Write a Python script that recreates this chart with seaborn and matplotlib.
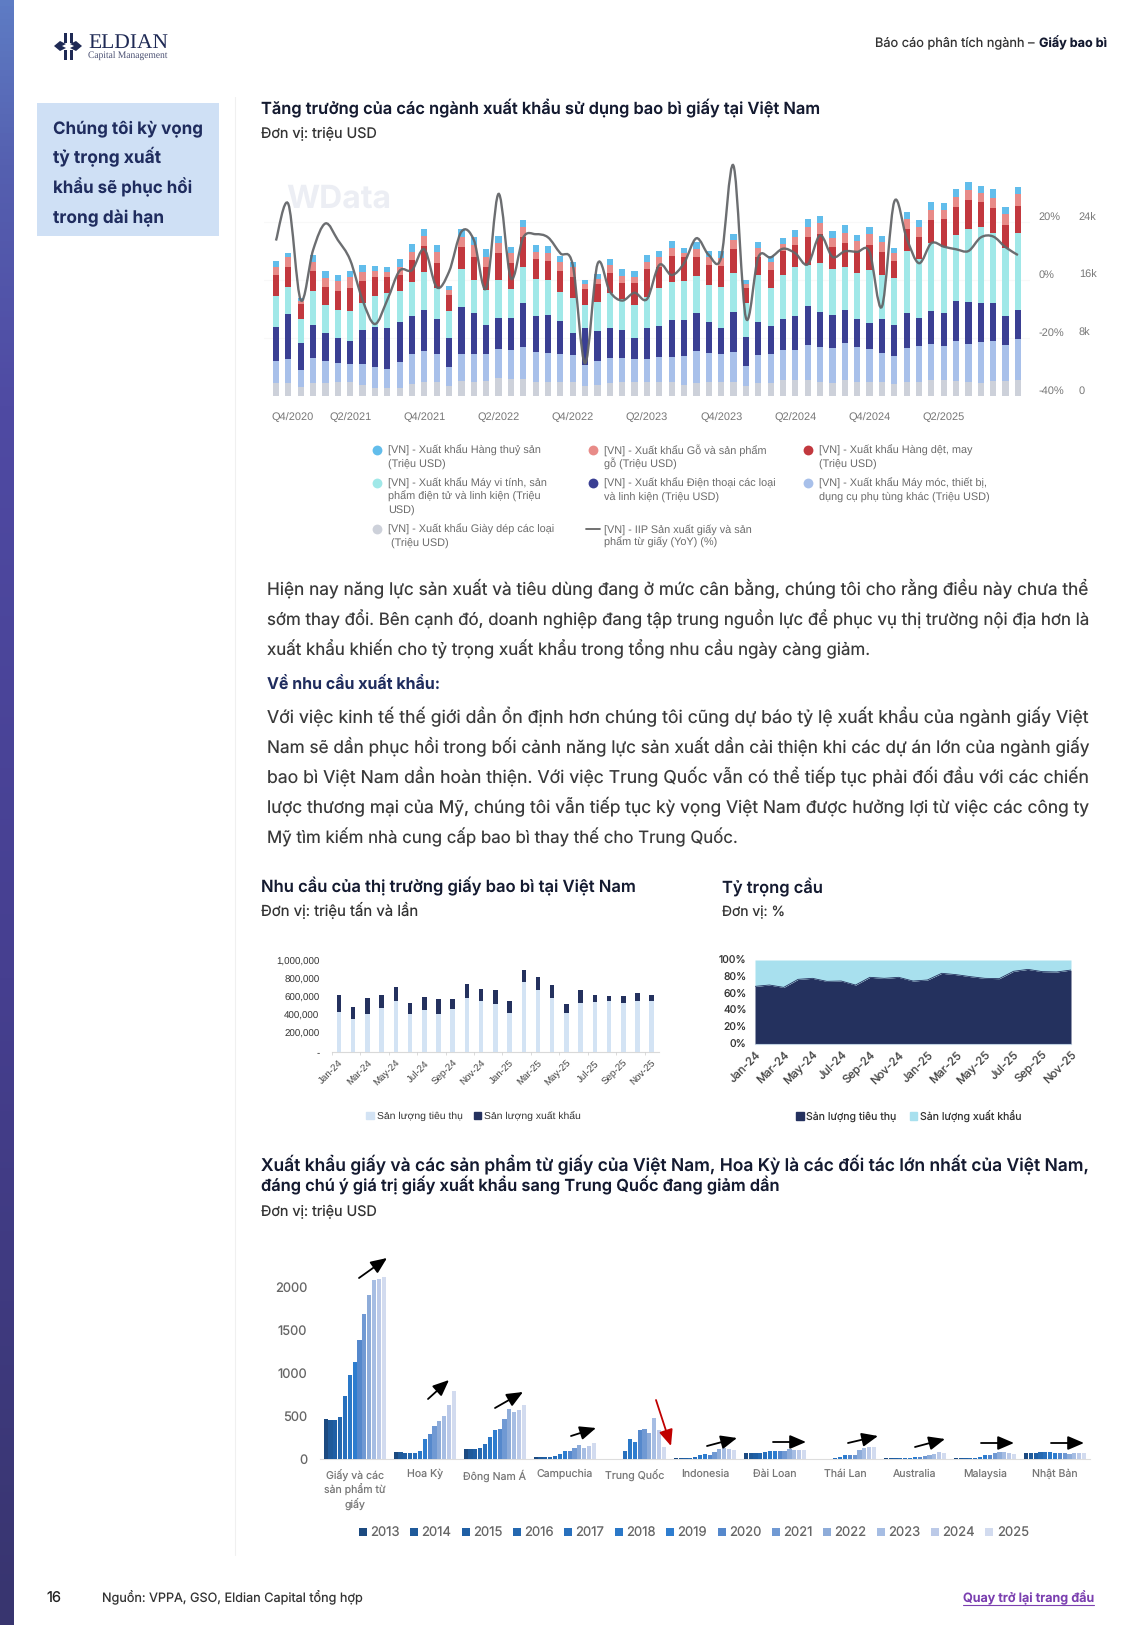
# Rebuild of the paper packaging report page: three small charts plus the page text.
# Everything is placed in pixels of the 1125x1625 page.

import matplotlib
matplotlib.use("Agg")
import matplotlib.pyplot as plt
import numpy as np
import pandas as pd
import seaborn as sns
from matplotlib.patches import PathPatch, Patch, Rectangle, Polygon
from matplotlib.path import Path
from matplotlib.transforms import ScaledTranslation

W, H = 1125, 1625
BODY = "Inter"
ARIAL = "Liberation Sans"

# chart 1: exports by sector (million USD) and IIP of paper (%)
# ---
footwear = [1750, 1840, 1290, 1750, 1750, 1980, 1980, 1520, 1060, 1060, 1060, 1660, 1980, 1980, 1430, 2070, 1980, 2120, 2480, 2390, 2390, 1980, 1980, 1890, 1890, 1430, 1520, 1750, 1890, 1890, 1890, 1890, 1890, 1520, 1840, 1980, 1890, 1930, 1380, 1840, 1840, 2210, 2210, 2210, 1980, 1750, 2210, 1890, 1980, 1890, 1660, 1980, 1980, 2210, 2210, 2020, 1980, 1750, 2020, 2120, 2210]
machinery = [3130, 3310, 2300, 3450, 3130, 2530, 2440, 2900, 2990, 2620, 3590, 4090, 4230, 3770, 2620, 3680, 3770, 3630, 3960, 3960, 4420, 4140, 4000, 3910, 3730, 2850, 3360, 3450, 3310, 3220, 3270, 3450, 3450, 4000, 4420, 3910, 3910, 4190, 2760, 3820, 3960, 4140, 4140, 4780, 4830, 4830, 5060, 4920, 4510, 4000, 3860, 4600, 4970, 4970, 4740, 5520, 5200, 5700, 5610, 4970, 5610]
phones = [4600, 6160, 3680, 4650, 3770, 3540, 3220, 4690, 5520, 5660, 5570, 5290, 5660, 4830, 4000, 6490, 5750, 4090, 4370, 4460, 6070, 4920, 5200, 4510, 3130, 5060, 4090, 4190, 3910, 2940, 4230, 4370, 5150, 4970, 5150, 4320, 3590, 5520, 4050, 4600, 3910, 4320, 4690, 5430, 4740, 4600, 4600, 3770, 3630, 4690, 4320, 4830, 3770, 4600, 4460, 5570, 5800, 5340, 5150, 3960, 4050]
computers = [4320, 3770, 3360, 4600, 3860, 3820, 4090, 3680, 4280, 4920, 4230, 4740, 5240, 4280, 3680, 5240, 4510, 4780, 5200, 3910, 4970, 5060, 4830, 4000, 4740, 3170, 4000, 4780, 4230, 4510, 4320, 5150, 5290, 5430, 5150, 5060, 5700, 5380, 4600, 6390, 5150, 5980, 6720, 5700, 6760, 6390, 5980, 6350, 7270, 6070, 6390, 8600, 8140, 9290, 9200, 9110, 10030, 10580, 9750, 9430, 10670]
textile = [2850, 2760, 2070, 2850, 2580, 2670, 3170, 3130, 2620, 2210, 2210, 2990, 3590, 3450, 2160, 3040, 3130, 3220, 3680, 3680, 4050, 2810, 2670, 2940, 2990, 2250, 2440, 2850, 2300, 2990, 3770, 2990, 3540, 3310, 2670, 2810, 2850, 3220, 2070, 2580, 2530, 3310, 3130, 3860, 4050, 3040, 3310, 3080, 3500, 3270, 2440, 3040, 3130, 3220, 3820, 3910, 3960, 3360, 3360, 3080, 3680]
wood = [1200, 1290, 460, 1240, 1200, 1380, 1560, 1240, 740, 640, 1200, 1150, 1380, 1610, 740, 1380, 1700, 1290, 1380, 1380, 1380, 1010, 1100, 1200, 1290, 640, 690, 1060, 920, 920, 1060, 1290, 1100, 460, 1100, 1150, 1060, 1290, 550, 1240, 1150, 1010, 1100, 1290, 1470, 1200, 1380, 1330, 1520, 1330, 1010, 1380, 1290, 1380, 1240, 1380, 1380, 1330, 1470, 1520, 1610]
seafood = [830, 640, 320, 920, 920, 780, 830, 920, 740, 740, 1060, 1060, 920, 920, 600, 1200, 1060, 1100, 1010, 830, 1010, 970, 920, 870, 780, 550, 740, 780, 920, 830, 870, 830, 970, 780, 920, 830, 970, 780, 550, 780, 780, 830, 920, 1100, 1010, 1010, 1100, 920, 870, 830, 690, 1010, 1010, 1060, 920, 1010, 1100, 920, 1240, 970, 1060]
iip_yoy = [13.6, 26.2, -6.9, 10.3, 19.5, 13.8, 6.9, -6.9, -15.2, -6.9, 3.2, 3.4, 10.6, -2.5, 2.9, 16.7, 13.8, -2.9, 29.7, 0.6, 14.7, 15.8, 14.7, 9.2, 5.2, -28.7, 5.5, -4.0, -7.1, -4.4, -6.6, 5.2, 1.7, 5.8, 14.4, 8.6, 7.8, 39.4, -13.0, 7.8, 7.8, 10.8, 9.2, 5.4, 15.4, 8.0, 9.9, 9.7, 9.7, -9.2, 27.0, 14.4, 5.8, 12.7, 11.5, 10.6, 10.0, 14.7, 15.0, 11.3, 8.6]
quarter_pos = [0, 6, 12, 18, 24, 30, 36, 42, 48, 54]
quarter_labels = ["Q4/2020", "Q2/2021", "Q4/2021", "Q2/2022", "Q4/2022", "Q2/2023", "Q4/2023", "Q2/2024", "Q4/2024", "Q2/2025"]
sector_series = [footwear, machinery, phones, computers, textile, wood, seafood]
sector_colors = ["#CDD1DA", "#A8C0EA", "#3A3F93", "#A0E8E8", "#C2383E", "#E88B88", "#62BDEB"]

# charts 2 and 3: monthly demand
# ---
months = ["Jan-24", "Feb-24", "Mar-24", "Apr-24", "May-24", "Jun-24", "Jul-24", "Aug-24", "Sep-24", "Oct-24", "Nov-24", "Dec-24",
          "Jan-25", "Feb-25", "Mar-25", "Apr-25", "May-25", "Jun-25", "Jul-25", "Aug-25", "Sep-25", "Oct-25", "Nov-25"]
domestic = [440000, 355000, 410000, 484000, 560000, 410000, 458000, 410000, 465000, 586000, 557000, 520000, 429000, 766000, 678000, 593000, 425000, 535000, 546000, 553000, 538000, 557000, 553000]
exported = [180000, 139000, 183000, 136000, 147000, 128000, 139000, 165000, 110000, 154000, 132000, 154000, 125000, 132000, 139000, 136000, 103000, 139000, 73000, 59000, 77000, 84000, 66000]
domestic_share = [68.5, 70.1, 67.3, 76.9, 78.1, 74.5, 74.9, 70.1, 79.3, 78.1, 79.3, 74.9, 76.1, 84.1, 82.5, 80.1, 78.1, 77.7, 86.5, 88.8, 86.1, 85.7, 88.0]
export_share = [100 - v for v in domestic_share]

# chart 4: paper exports by market, 2013-2025 (million USD)
# ---
years = [str(y) for y in range(2013, 2026)]
markets = ["Giấy và các\nsản phẩm từ\ngiấy", "Hoa Kỳ", "Đông Nam Á", "Campuchia", "Trung Quốc", "Indonesia", "Đài Loan", "Thái Lan", "Australia", "Malaysia", "Nhật Bản"]
total_paper = [467, 455, 455, 494, 733, 973, 1123, 1382, 1679, 1899, 2077, 2088, 2115]
usa = [85, 81, 77, 77, 77, 97, 232, 290, 390, 444, 506, 625, 791]
sea = [116, 116, 120, 131, 181, 259, 340, 347, 467, 583, 548, 575, 629]
cambodia = [23, 23, 23, 27, 42, 58, 93, 97, 135, 166, 135, 151, 189]
china = [3, 3, 3, 3, 100, 235, 200, 344, 355, 305, 475, 336, 147]
indonesia = [12, 12, 12, 12, 31, 46, 66, 54, 89, 120, 127, 124, 112]
taiwan = [77, 77, 77, 77, 85, 93, 100, 93, 100, 124, 112, 108, 108]
thailand = [4, 4, 4, 4, 12, 27, 50, 46, 54, 108, 131, 139, 143]
australia = [15, 15, 15, 15, 15, 19, 23, 27, 39, 54, 62, 81, 77]
malaysia = [12, 12, 12, 12, 15, 31, 46, 54, 69, 89, 81, 69, 62]
japan = [69, 69, 77, 89, 85, 81, 73, 69, 69, 66, 69, 69, 69]
market_series = [total_paper, usa, sea, cambodia, china, indonesia, taiwan, thailand, australia, malaysia, japan]
year_colors = ["#1C4A80", "#1F5A9A", "#1F5FA5", "#2468B0", "#2870BD", "#2A78C8", "#2E7DCF", "#5588CC", "#7099D3", "#8EACD9", "#A6BDE3", "#BCCAE8", "#D2DBEF"]

legend_rows = [
    (377, 388, 450, "#62BDEB", ["[VN] - Xuất khẩu Hàng thuỷ sản", "(Triệu USD)"]),
    (593, 604, 450, "#E88B88", ["[VN] - Xuất khẩu Gỗ và sản phẩm", "gỗ (Triệu USD)"]),
    (808, 819, 450, "#C2383E", ["[VN] - Xuất khẩu Hàng dệt, may", "(Triệu USD)"]),
    (377, 388, 483, "#A0E8E8", ["[VN] - Xuất khẩu Máy vi tính, sản", "phẩm điện tử và linh kiện (Triệu", "USD)"]),
    (593, 604, 483, "#3A3F93", ["[VN] - Xuất khẩu Điện thoại các loại", "và linh kiện (Triệu USD)"]),
    (808, 819, 483, "#A8C0EA", ["[VN] - Xuất khẩu Máy móc, thiết bị,", "dụng cụ phụ tùng khác (Triệu USD)"]),
    (377, 388, 528.5, "#CDD1DA", ["[VN] - Xuất khẩu Giày dép các loại", " (Triệu USD)"]),
    (593, 604, 528.5, None, ["[VN] - IIP Sản xuất giấy và sản", "phẩm từ giấy (YoY) (%)"]),
]

para_one = ["Hiện nay năng lực sản xuất và tiêu dùng đang ở mức cân bằng, chúng tôi cho rằng điều này chưa thể",
            "sớm thay đổi. Bên cạnh đó, doanh nghiệp đang tập trung nguồn lực để phục vụ thị trường nội địa hơn là",
            "xuất khẩu khiến cho tỷ trọng xuất khẩu trong tổng nhu cầu ngày càng giảm."]
para_two = ["Với việc kinh tế thế giới dần ổn định hơn chúng tôi cũng dự báo tỷ lệ xuất khẩu của ngành giấy Việt",
            "Nam sẽ dần phục hồi trong bối cảnh năng lực sản xuất dần cải thiện khi các dự án lớn của ngành giấy",
            "bao bì Việt Nam dần hoàn thiện. Với việc Trung Quốc vẫn có thể tiếp tục phải đối đầu với các chiến",
            "lược thương mại của Mỹ, chúng tôi vẫn tiếp tục kỳ vọng Việt Nam được hưởng lợi từ việc các công ty",
            "Mỹ tìm kiếm nhà cung cấp bao bì thay thế cho Trung Quốc."]


# helpers
# ---
sns.set_theme(style="white")
plt.rcParams["font.family"] = [BODY, "DejaVu Sans"]
plt.rcParams["text.hinting"] = "none"

fig = plt.figure(figsize=(W / 100, H / 100), dpi=100, facecolor="white")
renderer = fig.canvas.get_renderer()

# the page itself, in pixels with y going down
page = fig.add_axes([0, 0, 1, 1], zorder=5)
page.set_xlim(0, W)
page.set_ylim(H, 0)
page.axis("off")
page.patch.set_alpha(0)


def chart_axes(x0, y0, x1, y1):
    ax = fig.add_axes([x0 / W, 1 - y1 / H, (x1 - x0) / W, (y1 - y0) / H])
    ax.patch.set_alpha(0)
    return ax


def put(x, y, s, width=None, size=10, color="#222222", **kw):
    # y is the middle of the x-height, width fits the line to a measured length
    if width is not None:
        for _ in range(3):
            probe = page.text(0, 0, s, fontsize=size, **kw)
            size = size * width / probe.get_window_extent(renderer).width
            probe.remove()
    return page.text(x, y + 0.36 * size * 100 / 72, s, fontsize=size, color=color, va="baseline", **kw)


def smooth_line(ax, xs, ys, **kw):
    # catmull-rom through the points, as bezier segments
    pts = np.column_stack([xs, ys]).astype(float)
    verts = [pts[0]]
    codes = [Path.MOVETO]
    for i in range(len(pts) - 1):
        before = pts[max(i - 1, 0)]
        after = pts[min(i + 2, len(pts) - 1)]
        verts += [pts[i] + (pts[i + 1] - before) / 6, pts[i + 1] - (after - pts[i]) / 6, pts[i + 1]]
        codes += [Path.CURVE4] * 3
    ax.add_patch(PathPatch(Path(verts, codes), fill=False, **kw))


# page furniture
# ---
strip = page.imshow(np.linspace(0, 1, 256).reshape(-1, 1), extent=(0, 14, H, 0), aspect="auto",
                    cmap=matplotlib.colors.LinearSegmentedColormap.from_list(
                        "strip", [(0, "#5E7CC4"), (0.1, "#5560B0"), (0.25, "#4F4AA3"), (0.6, "#463F90"), (1, "#38356F")]))
page.set_xlim(0, W)
page.set_ylim(H, 0)
page.plot([235, 235], [97, 1555], color="#F0F0F0", lw=0.8)

# logo mark
navy = "#1F2A55"
for bx, by in [(63.5, 32.5), (69.5, 32.5), (63.5, 50), (69.5, 50)]:
    page.add_patch(Rectangle((bx, by), 3.6, 10, color=navy, lw=0))
page.add_patch(Polygon([(54, 46), (60, 41), (66, 44), (62, 46), (66, 48), (60, 51)], color=navy, lw=0))
page.add_patch(Polygon([(82, 46), (76, 41), (70, 44), (74, 46), (70, 48), (76, 51)], color=navy, lw=0))
put(88, 40, "ELDIAN", width=80, size=17, color=navy, family="Liberation Serif")
put(88, 55.5, "Capital Management", width=80, size=6, color="#4A5072", family="Liberation Serif")

put(875, 42.5, "Báo cáo phân tích ngành – ", width=163, size=9, color="#333333")
put(1039, 42.5, "Giấy bao bì", width=68, size=9, color="#141A30", fontweight="bold")

page.add_patch(Rectangle((37, 103), 182, 133, color="#CFE0F5", lw=0))
for line, ly, lw in zip(["Chúng tôi kỳ vọng", "tỷ trọng xuất", "khẩu sẽ phục hồi", "trong dài hạn"],
                        [127, 157, 187, 217], [150, 108, 139, 111]):
    put(53, ly, line, width=lw, size=12, color="#1F2C5E", fontweight="bold")

# titles
title_kw = dict(size=12, color="#141A30", fontweight="semibold")
put(261, 108, "Tăng trưởng của các ngành xuất khẩu sử dụng bao bì giấy tại Việt Nam", width=559, **title_kw)
put(261, 133, "Đơn vị: triệu USD", width=116, size=9.5, color="#333333")
put(261, 886, "Nhu cầu của thị trường giấy bao bì tại Việt Nam", width=375, **title_kw)
put(261, 911, "Đơn vị: triệu tấn và lần", width=157, size=9.5, color="#333333")
put(722, 886, "Tỷ trọng cầu", width=101, **title_kw)
put(722, 911, "Đơn vị: %", width=63, size=9.5, color="#333333")
put(261, 1164.5, "Xuất khẩu giấy và các sản phẩm từ giấy của Việt Nam, Hoa Kỳ là các đối tác lớn nhất của Việt Nam,", width=828, **title_kw)
put(261, 1185, "đáng chú ý giá trị giấy xuất khẩu sang Trung Quốc đang giảm dần", width=519, **title_kw)
put(261, 1211, "Đơn vị: triệu USD", width=116, size=9.5, color="#333333")

# body text, justified lines are fitted to the column
for line, ly, lw in zip(para_one, [588.5, 619, 649], [822, 822, 603]):
    put(267, ly, line, width=lw, size=11, color="#3A3A3A")
put(267, 684, "Về nhu cầu xuất khẩu:", width=173, size=11.5, color="#1F2C5E", fontweight="bold")
for line, ly, lw in zip(para_two, [717, 746.5, 777, 806.5, 837], [822, 822, 822, 822, 471]):
    put(267, ly, line, width=lw, size=11, color="#3A3A3A")

# footer
put(46, 1597, "16", size=10.5, color="#222222")
put(101.5, 1597.5, "Nguồn: VPPA, GSO, Eldian Capital tổng hợp", width=261, size=9, color="#333333")
put(963, 1597.5, "Quay trở lại trang đầu", width=131, size=9, color="#7B3FB0", fontweight="semibold")
page.plot([963, 1094], [1605, 1605], color="#7B3FB0", lw=0.8)

# chart 1
# ---
ax1 = chart_axes(263.6, 160, 1030.3, 396)
bottoms = np.zeros(len(footwear))
x_index = np.arange(len(footwear))
for values, color in zip(sector_series, sector_colors):
    # linewidth=0 because the seaborn theme puts white edges on bars
    sns.barplot(x=x_index, y=values, bottom=bottoms, color=color, saturation=1, width=0.5, linewidth=0, ax=ax1, zorder=2)
    bottoms = bottoms + np.array(values)
ax1.set_xlim(-1, 61)
ax1.set_ylim(0, 32552)
ax1.set_xlabel("")
ax1.set_ylabel("")
sns.despine(ax=ax1, left=True, bottom=True)
ax1.set_xticks(quarter_pos, quarter_labels, family=ARIAL, fontsize=7.9, color="#777777")
ax1.tick_params(axis="x", length=0, pad=12)
ax1.get_xticklabels()[0].set_ha("left")
ax1.get_xticklabels()[0].set_transform(ax1.get_xticklabels()[0].get_transform() + ScaledTranslation(-3 / 72, 0, fig.dpi_scale_trans))
ax1.grid(False)
ax1.text(286, 199, "WData", transform=page.transData, family=BODY, fontweight="bold", fontsize=23, color="#ECEEF4", va="center", zorder=1)

ax1b = ax1.twinx()
ax1b.patch.set_alpha(0)
ax1b.set_ylim(-40, 41.38)
smooth_line(ax1b, x_index, iip_yoy, edgecolor="#646669", lw=1.7, alpha=0.95, zorder=4)
sns.despine(ax=ax1b, left=True, right=True, bottom=True)
ax1b.grid(False)

ax1.yaxis.tick_right()
ax1.set_yticks([0, 8000, 16000, 24000], ["0", "8k", "16k", "24k"], family=ARIAL, fontsize=7.9, color="#777777")
ax1.tick_params(axis="y", length=0, pad=35)
ax1b.yaxis.tick_right()
ax1b.set_yticks([-40, -20, 0, 20], ["-40%", "-20%", "0%", "20%"], family=ARIAL, fontsize=7.9, color="#777777")
ax1b.tick_params(axis="y", length=0, pad=6)
for lab in ax1.get_yticklabels() + ax1b.get_yticklabels():
    lab.set_transform(lab.get_transform() + ScaledTranslation(0, 4.6 / 72, fig.dpi_scale_trans))
for gy in [24000, 16000, 8000]:
    ax1.axhline(gy, color="#F8F8F8", lw=0.8, zorder=0)

for dot_x, text_x, row_y, color, lines in legend_rows:
    if color is None:
        page.plot([dot_x - 7, dot_x + 7], [row_y, row_y], color="#666666", lw=1.3)
    else:
        page.scatter([dot_x], [row_y], s=50, color=color, lw=0)
    for k, line in enumerate(lines):
        put(text_x, row_y + k * 13.3, line, size=7.8, color="#6B6B6B", family=ARIAL)

# chart 2
# ---
ax2 = chart_axes(331.9, 950, 658.8, 1051.7)
month_index = np.arange(len(months))
sns.barplot(x=month_index, y=domestic, color="#D3E3F4", saturation=1, width=0.32, linewidth=0, ax=ax2)
sns.barplot(x=month_index, y=exported, bottom=np.array(domestic), color="#24315E", saturation=1, width=0.32, linewidth=0, ax=ax2)
ax2.set_xlim(-0.5, 22.5)
ax2.set_ylim(0, 1118000)
ax2.set_xlabel("")
ax2.set_ylabel("")
sns.despine(ax=ax2, left=True)
ax2.spines["bottom"].set_color("#D9D9D9")
ax2.spines["bottom"].set_linewidth(0.8)
ax2.spines["bottom"].set_zorder(0.5)
ax2.set_yticks([0, 200000, 400000, 600000, 800000, 1000000], ["-", "200,000", "400,000", "600,000", "800,000", "1,000,000"],
               family=ARIAL, fontsize=7, color="#333333")
ax2.tick_params(axis="y", length=0, pad=9)
ax2.set_xticks(month_index[::2], months[::2], rotation=45, ha="right", rotation_mode="anchor", family=ARIAL, fontsize=7, color="#444444")
ax2.set_xticks(np.arange(-0.5, 23, 2), minor=True)
ax2.tick_params(axis="x", which="major", length=0, pad=5)
ax2.tick_params(axis="x", which="minor", bottom=True, length=2, width=0.5, color="#CCCCCC")
ax2.grid(False)
ax2.legend(handles=[Patch(color="#D3E3F4", label="Sản lượng tiêu thụ"), Patch(color="#24315E", label="Sản lượng xuất khẩu")],
           loc="center left", bbox_to_anchor=(361 / W, 1 - 1116 / H), bbox_transform=fig.transFigure, ncol=2, frameon=False,
           prop={"family": ARIAL, "size": 7.5}, labelcolor="#333333", handlelength=0.7, handleheight=0.7, handletextpad=0.3, columnspacing=1.1, borderpad=0)

# chart 3
# ---
ax3 = chart_axes(755, 960, 1071, 1043.7)
ax3.stackplot(month_index, domestic_share, export_share, colors=["#24315E", "#A8E0EE"], lw=0)
sns.lineplot(x=month_index, y=domestic_share, color="#24315E", lw=0.6, ax=ax3)
ax3.set_xlim(0, 22)
ax3.set_ylim(0, 100)
ax3.set_xlabel("")
ax3.set_ylabel("")
sns.despine(ax=ax3, left=True)
ax3.spines["bottom"].set_color("#BFD0E0")
ax3.spines["bottom"].set_linewidth(0.8)
ax3.set_yticks([0, 20, 40, 60, 80, 100], ["0%", "20%", "40%", "60%", "80%", "100%"], fontsize=7.5, color="#333333")
ax3.tick_params(axis="y", length=0, pad=6)
ax3.set_xticks(month_index[::2], months[::2], rotation=45, ha="right", rotation_mode="anchor", fontsize=8.2, color="#444444")
ax3.tick_params(axis="x", length=2, width=0.5, color="#BBBBBB", pad=2)
ax3.grid(False)
ax3.legend(handles=[Patch(color="#24315E", label="Sản lượng tiêu thụ"), Patch(color="#A8E0EE", label="Sản lượng xuất khẩu")],
           loc="center left", bbox_to_anchor=(791 / W, 1 - 1116 / H), bbox_transform=fig.transFigure, ncol=2, frameon=False,
           prop={"size": 7.6}, labelcolor="#333333", handlelength=0.7, handleheight=0.7, handletextpad=0.25, columnspacing=1.25, borderpad=0)

# chart 4
# ---
ax4 = chart_axes(319.7, 1250, 1090, 1459.3)
df4 = pd.DataFrame({
    "market": np.repeat(markets, len(years)),
    "year": years * len(markets),
    "value": np.concatenate(market_series),
})
sns.barplot(data=df4, x="market", y="value", hue="year", palette=year_colors, saturation=1, width=0.9, gap=0.14, linewidth=0, ax=ax4)
ax4.set_xlim(-0.5, 10.5)
ax4.set_ylim(0, 2425)
ax4.set_xlabel("")
ax4.set_ylabel("")
sns.despine(ax=ax4, left=True)
ax4.spines["bottom"].set_color("#DDDDDD")
ax4.spines["bottom"].set_linewidth(0.8)
ax4.spines["bottom"].set_zorder(0.5)
ax4.set_yticks([0, 500, 1000, 1500, 2000])
ax4.tick_params(axis="y", length=0, pad=9, labelsize=9.3, labelcolor="#666666")
ax4.tick_params(axis="x", length=0, pad=7, labelsize=7.6, labelcolor="#777777")
ax4.grid(False)
sns.move_legend(ax4, "center left", bbox_to_anchor=(352 / W, 1 - 1533 / H), bbox_transform=fig.transFigure, ncol=13, frameon=False,
                title=None, fontsize=9.4, labelcolor="#666666", handlelength=0.62, handleheight=0.62, handletextpad=0.25, columnspacing=0.8, borderpad=0)

# trend arrows over chart 4
black_arrows = [((359, 1278), (387, 1258)), ((428, 1399), (449, 1380)), ((495, 1408), (523, 1392)), ((571, 1436), (596, 1428)),
                ((707, 1446), (737, 1438)), ((773, 1442), (806, 1442)), ((848, 1443), (878, 1436)), ((915, 1447), (945, 1439)),
                ((981, 1443), (1014, 1443)), ((1051, 1443), (1084, 1443))]
for start, end in black_arrows:
    page.annotate("", xy=end, xytext=start, arrowprops=dict(arrowstyle="-|>,head_length=0.7,head_width=0.3", color="black", lw=1.3, mutation_scale=14, shrinkA=0, shrinkB=0))
page.annotate("", xy=(671, 1446), xytext=(656, 1400), arrowprops=dict(arrowstyle="-|>,head_length=0.7,head_width=0.3", color="#C00000", lw=1.3, mutation_scale=14, shrinkA=0, shrinkB=0))

plt.savefig("out.png", dpi=100)
plt.close()
